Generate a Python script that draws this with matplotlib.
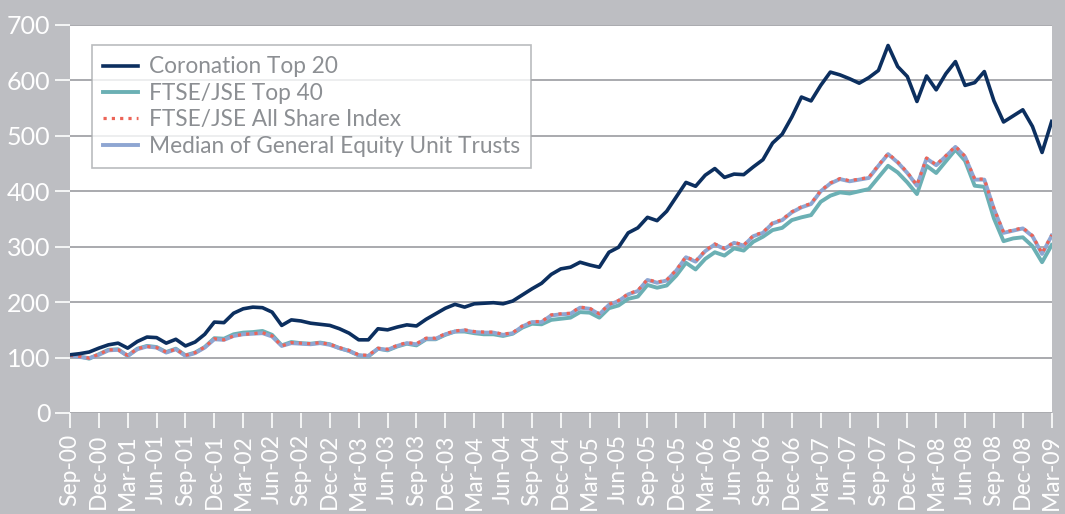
import matplotlib
matplotlib.use("Agg")
import matplotlib.pyplot as plt
import pandas as pd

# Monthly index values, Sep-2000 .. Mar-2009
coronation = [105, 107, 110, 117, 123, 126, 117, 129, 137, 136, 126, 133, 121, 128, 142, 164, 163, 180,
              188, 191, 190, 182, 158, 168, 166, 162, 160, 158, 152, 144, 132, 132, 152, 150, 155, 159,
              157, 169, 179, 189, 196, 191, 197, 198, 199, 197, 202, 213, 224, 234, 250, 260, 263, 272,
              267, 263, 290, 299, 325, 334, 353, 347, 364, 390, 416, 409, 429, 441, 425, 431, 430, 444,
              457, 487, 503, 534, 570, 563, 591, 615, 610, 603, 595, 605, 618, 663, 625, 607, 562, 608,
              583, 612, 634, 591, 596, 616, 563, 525, 536, 547, 517, 470, 526]
top40 = [104, 102, 98, 106, 114, 115, 103, 116, 121, 119, 110, 116, 104, 109, 119, 135, 134, 142,
         145, 146, 148, 141, 122, 128, 126, 125, 127, 124, 117, 112, 104, 102, 116, 113, 120, 125,
         122, 133, 133, 141, 147, 147, 144, 142, 142, 139, 143, 154, 161, 160, 168, 170, 172, 182,
         181, 172, 189, 194, 206, 210, 231, 226, 230, 248, 271, 259, 278, 290, 284, 297, 293, 309,
         318, 330, 334, 348, 353, 357, 381, 392, 398, 396, 400, 404, 425, 446, 434, 416, 395, 446,
         433, 454, 475, 455, 410, 408, 351, 310, 315, 317, 301, 272, 303]
all_share = [104, 102, 99, 106, 114, 114, 104, 116, 120, 118, 110, 115, 104, 109, 119, 134, 132, 139,
             142, 143, 145, 139, 121, 127, 126, 125, 127, 124, 118, 113, 105, 104, 117, 115, 122, 127,
             125, 135, 135, 143, 148, 150, 147, 146, 146, 142, 145, 157, 165, 165, 177, 179, 180, 191,
             189, 179, 196, 203, 215, 221, 241, 236, 240, 258, 282, 274, 293, 305, 297, 308, 303, 320,
             326, 343, 349, 363, 372, 378, 401, 415, 423, 419, 422, 425, 447, 468, 453, 434, 411, 460,
             448, 464, 481, 463, 422, 422, 369, 326, 330, 334, 320, 288, 321]
median_ut = [104, 101, 99, 105, 113, 114, 103, 115, 120, 118, 109, 115, 103, 108, 118, 133, 132, 139,
             142, 143, 144, 138, 121, 126, 125, 124, 126, 123, 117, 112, 104, 103, 116, 114, 121, 126,
             124, 134, 134, 142, 147, 149, 146, 145, 145, 141, 144, 156, 164, 164, 176, 178, 179, 190,
             188, 178, 195, 202, 214, 220, 240, 235, 239, 257, 281, 273, 292, 304, 296, 307, 302, 319,
             325, 342, 348, 362, 371, 377, 400, 414, 422, 418, 421, 424, 446, 467, 452, 433, 410, 459,
             447, 463, 480, 462, 421, 421, 368, 325, 329, 333, 319, 287, 320]

months = pd.date_range("2000-09-01", "2009-03-01", freq="MS")
tick_labels = [m.strftime("%b-%y") for m in months[::3]]

bg = "#bdbec2"
plt.rcParams["font.family"] = ["Lato", "DejaVu Sans"]

fig = plt.figure(figsize=(10.65, 5.14), dpi=100, facecolor=bg)
ax = fig.add_axes([0.0657, 0.1965, 0.9218, 0.7549])
ax.set_facecolor("white")

x = range(len(months))
ax.plot(x, median_ut, color="#8ea6d2", lw=2.8, label="Median of General Equity Unit Trusts", zorder=3)
ax.plot(x, top40, color="#6bb0b4", lw=2.8, label="FTSE/JSE Top 40", zorder=2)
ax.plot(x, all_share, color="#ec6457", lw=2.3, ls=(0, (1, 1.6)), label="FTSE/JSE All Share Index", zorder=4)
ax.plot(x, coronation, color="#0c2f5f", lw=2.6, label="Coronation Top 20", zorder=5)

ax.set_xlim(0, len(months) - 1)
ax.set_ylim(0, 700)
ax.set_yticks(range(0, 701, 100))
ax.set_xticks(list(x)[::3])
ax.set_xticklabels(tick_labels, rotation=90)
ax.yaxis.grid(True, color="#a3a4a8", lw=1.3)
ax.set_axisbelow(True)
for s in ax.spines.values():
    s.set_visible(False)
ax.tick_params(axis="both", colors="white", length=11, width=1.2)
ax.tick_params(axis="x", labelsize=16.5, pad=4)
ax.tick_params(axis="y", labelsize=18, pad=3)

handles, labels = ax.get_legend_handles_labels()
order = [3, 1, 2, 0]
leg = ax.legend([handles[i] for i in order], [labels[i] for i in order],
                loc="upper left", bbox_to_anchor=(0.0224, 0.948), borderaxespad=0,
                fontsize=16.3, frameon=True, fancybox=False, handlelength=1.55,
                handletextpad=0.45, labelspacing=0.24, borderpad=0.5, labelcolor="#8c8f93")
leg.get_frame().set_edgecolor("#a9abae")
leg.get_frame().set_linewidth(1.2)

fig.savefig("out.png", dpi=100, facecolor=bg)
